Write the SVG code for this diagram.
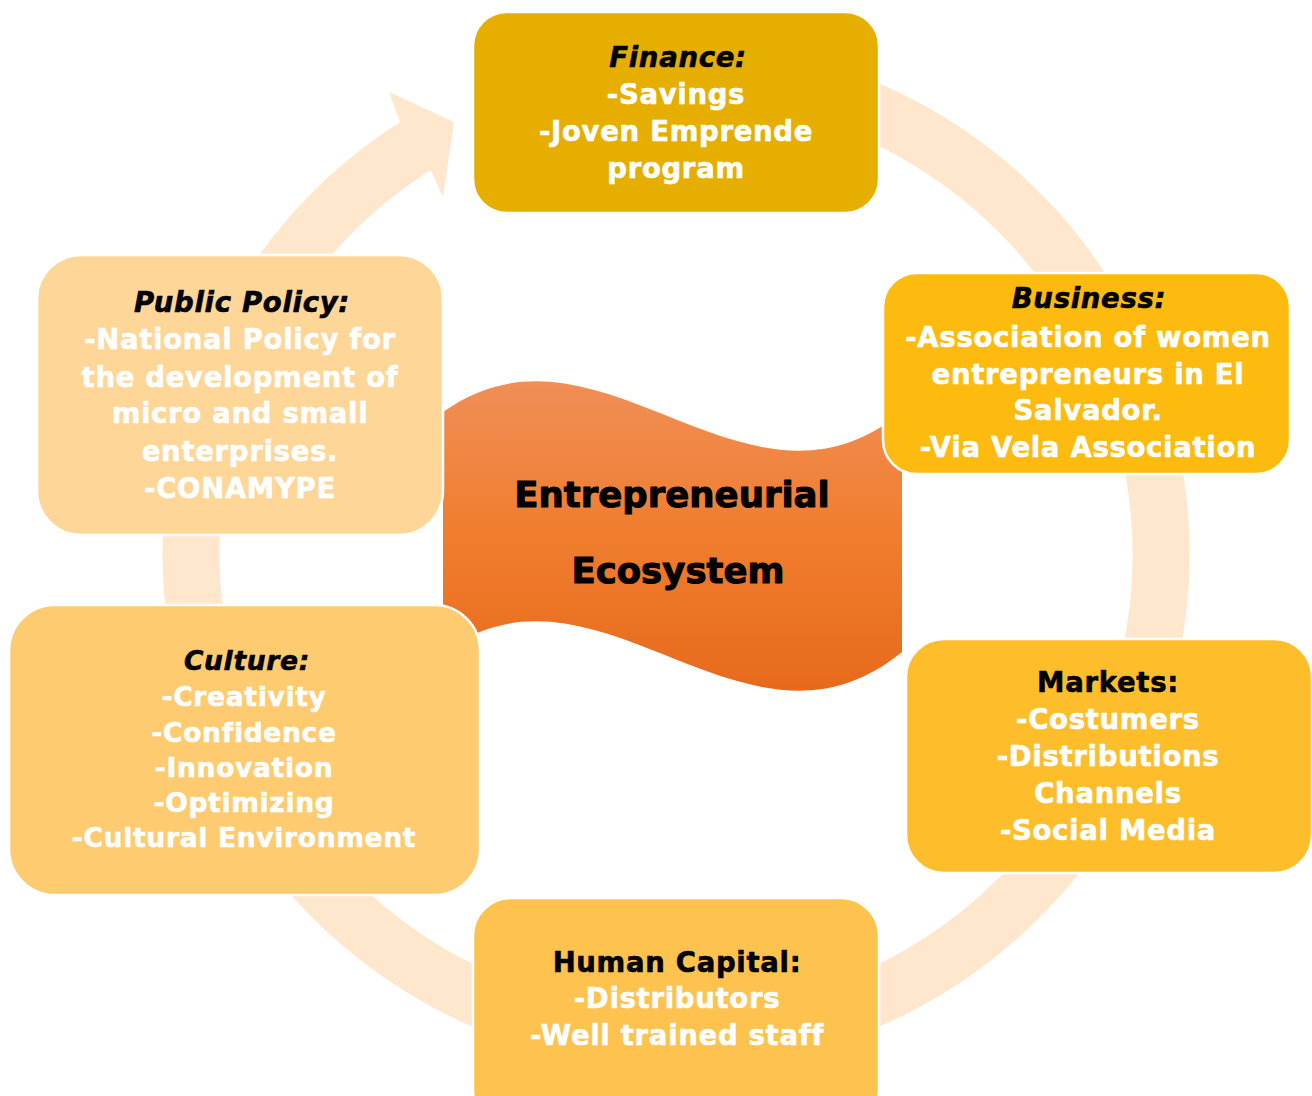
<svg xmlns="http://www.w3.org/2000/svg" width="1312" height="1096" viewBox="0 0 1312 1096">
<style>
.box{stroke:#ffffff;stroke-width:2.5}
.t{font-family:"DejaVu Sans","Liberation Sans",sans-serif;font-weight:bold;font-size:27.5px;text-anchor:middle;letter-spacing:0.7px;stroke-width:0.6px;stroke-linejoin:round}
.w{fill:#ffffff;stroke:#ffffff}
.h{fill:#000000;stroke:#000000}
.i{font-style:italic}
.c{font-size:26.5px}
.big{font-family:"DejaVu Sans","Liberation Sans",sans-serif;font-weight:bold;font-size:35.5px;text-anchor:middle;fill:#000000;stroke:#000000;stroke-width:1px;stroke-linejoin:round}
</style>
<defs>
<linearGradient id="wg" x1="0" y1="377" x2="0" y2="692" gradientUnits="userSpaceOnUse">
<stop offset="0" stop-color="#F08F58"/>
<stop offset="0.5" stop-color="#F07D2E"/>
<stop offset="1" stop-color="#E76A1B"/>
</linearGradient>
</defs>
<rect width="1312" height="1096" fill="#ffffff"/>
<g id="connectors">
<path d="M 591.8 77.4 A 485 485 0 1 1 422.6 141.5" fill="none" stroke="#FEE7CC" stroke-width="57"/>
<polygon points="399.6,121 389,92 454,122 443,197 430.2,169.1" fill="#FEE7CC"/>
</g>
<g id="center">
<path d="M 443 412 C 600 300 745 540 902 412 L 902 652 C 745 780 600 540 443 652 Z" fill="url(#wg)"/>
<text class="big" x="672" y="507">Entrepreneurial</text>
<text class="big" x="678" y="583">Ecosystem</text>
</g>
<g id="finance">
<rect class="box" x="473" y="12" width="406" height="201" rx="34" fill="#E6AF00"/>
<text class="t h i" x="678" y="67">Finance:</text>
<text class="t w" x="676" y="104">-Savings</text>
<text class="t w" x="676" y="141">-Joven Emprende</text>
<text class="t w" x="676" y="178">program</text>
</g>
<g id="business">
<rect class="box" x="883" y="273" width="407" height="201" rx="34" fill="#FDBB10"/>
<text class="t h i" x="1089" y="308">Business:</text>
<text class="t w" x="1088" y="347">-Association of women</text>
<text class="t w" x="1088" y="384">entrepreneurs in El</text>
<text class="t w" x="1088" y="420">Salvador.</text>
<text class="t w" x="1088" y="457">-Via Vela Association</text>
</g>
<g id="markets">
<rect class="box" x="906" y="639" width="406" height="234" rx="38" fill="#FEBE2C"/>
<text class="t h" x="1108" y="692">Markets:</text>
<text class="t w" x="1108" y="729">-Costumers</text>
<text class="t w" x="1108" y="766">-Distributions</text>
<text class="t w" x="1108" y="803">Channels</text>
<text class="t w" x="1108" y="840">-Social Media</text>
</g>
<g id="human-capital">
<rect class="box" x="473" y="898" width="406" height="230" rx="38" fill="#FEC34F"/>
<text class="t h" x="677" y="972">Human Capital:</text>
<text class="t w" x="677" y="1008">-Distributors</text>
<text class="t w" x="677" y="1045">-Well trained staff</text>
</g>
<g id="culture">
<rect class="box" x="9" y="605" width="471" height="290" rx="46" fill="#FECB70"/>
<text class="t c h i" x="247" y="670">Culture:</text>
<text class="t c w" x="244" y="706">-Creativity</text>
<text class="t c w" x="244" y="742">-Confidence</text>
<text class="t c w" x="244" y="777">-Innovation</text>
<text class="t c w" x="244" y="812">-Optimizing</text>
<text class="t c w" x="244" y="847">-Cultural Environment</text>
</g>
<g id="public-policy">
<rect class="box" x="37" y="255" width="406" height="280" rx="44" fill="#FED698"/>
<text class="t h i" x="242" y="312">Public Policy:</text>
<text class="t w" x="240" y="349">-National Policy for</text>
<text class="t w" x="240" y="387">the development of</text>
<text class="t w" x="240" y="423">micro and small</text>
<text class="t w" x="240" y="461">enterprises.</text>
<text class="t w" x="240" y="498">-CONAMYPE</text>
</g>
</svg>
